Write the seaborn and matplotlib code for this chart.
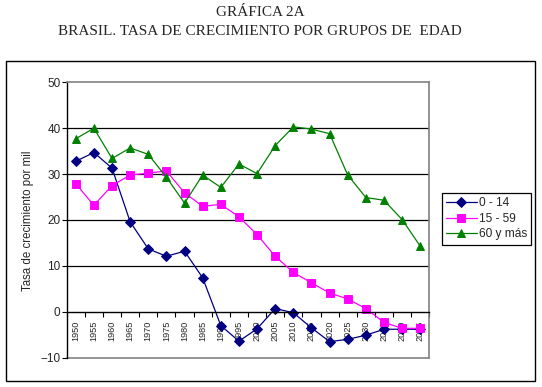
import numpy as np
import pandas as pd
import matplotlib
matplotlib.use("Agg")
import matplotlib.pyplot as plt
import matplotlib.patches as mpatches
import seaborn as sns

# --- data ---
years = [1950, 1955, 1960, 1965, 1970, 1975, 1980, 1985, 1990, 1995,
         2000, 2005, 2010, 2015, 2020, 2025, 2030, 2035, 2040, 2045]
g_0_14 = [32.8, 34.7, 31.3, 19.6, 13.7, 12.1, 13.2, 7.4, -3.0, -6.4,
          -3.7, 0.7, -0.2, -3.5, -6.5, -6.0, -5.1, -3.8, -3.8, -3.8]
g_15_59 = [27.9, 23.2, 27.5, 29.8, 30.2, 30.7, 25.9, 23.0, 23.4, 20.7,
           16.8, 12.1, 8.6, 6.3, 4.1, 2.8, 0.7, -2.3, -3.6, -3.6]
g_60 = [37.7, 40.0, 33.4, 35.7, 34.3, 29.3, 23.7, 29.8, 27.1, 32.2,
        30.1, 36.2, 40.3, 39.8, 38.8, 29.8, 24.9, 24.3, 20.1, 14.3]
groups = ["0 - 14", "15 - 59", "60 y más"]
colors = ["#000080", "#FF00FF", "#008000"]

df = pd.concat([
    pd.DataFrame({"year": [str(y) for y in years], "valor": vals, "grupo": g})
    for g, vals in zip(groups, [g_0_14, g_15_59, g_60])
])

sns.set_style("white")
plt.rcParams["font.family"] = ["Liberation Sans", "DejaVu Sans"]

W, H = 542, 387
fig = plt.figure(figsize=(W / 100, H / 100), dpi=100)
# plot area in pixel coordinates
x0, x1, y0, y1 = 66.7, 429.3, 82.3, 357.7
ax = fig.add_axes([x0 / W, 1 - y1 / H, (x1 - x0) / W, (y1 - y0) / H])

sns.pointplot(data=df, x="year", y="valor", hue="grupo", palette=colors,
              markers=["D", "s", "^"], linestyles="-", errorbar=None,
              markersize=5.5, linewidth=0.9, ax=ax)

ax.set_xlim(-0.5, len(years) - 0.5)
ax.set_ylim(-10, 50)

# horizontal grid lines
for v in [10, 20, 30, 40]:
    ax.axhline(v, color="black", lw=0.9, zorder=0)
ax.axhline(-10, color="#808080", lw=1.2, zorder=0, clip_on=False)

# spines
ax.spines["bottom"].set_position(("data", 0))
ax.spines["bottom"].set_color("black")
ax.spines["bottom"].set_linewidth(1.0)
ax.spines["left"].set_color("black")
ax.spines["left"].set_linewidth(1.0)
for s in ["top", "right"]:
    ax.spines[s].set_color("#808080")
    ax.spines[s].set_linewidth(1.2)

ax.set_yticks([-10, 0, 10, 20, 30, 40, 50])
ax.tick_params(axis="y", direction="out", length=3.5, width=0.8, pad=1,
               labelsize=8.5, left=True, color="black")
ax.set_xticks(range(len(years)))
ax.set_xticklabels([str(y) for y in years], rotation=90, fontsize=6.6)
ax.tick_params(axis="x", which="major", length=0, pad=6.5)
ax.set_xticks(np.arange(-0.5, len(years)), minor=True)
ax.tick_params(axis="x", which="minor", direction="out", length=3.5,
               width=0.8, color="black", bottom=True)
ax.set_xlabel("")
ax.set_ylabel("")

fig.text(28 / W, 1 - 221 / H, "Tasa de crecimiento por mil", rotation=90,
         ha="center", va="center", fontsize=8.3)

# title
fig.text(260 / W, 1 - 13 / H, "GRÁFICA 2A", ha="center", va="center",
         fontsize=11, family="Liberation Serif")
fig.text(259.5 / W, 1 - 31.5 / H, "BRASIL. TASA DE CRECIMIENTO POR GRUPOS DE  EDAD",
         ha="center", va="center", fontsize=11, family="Liberation Serif")

# legend
lx = (441.7 - x0) / (x1 - x0)
ly = (y1 - 193) / (y1 - y0)
sns.move_legend(ax, "upper left", bbox_to_anchor=(lx, ly), title=None,
                frameon=True, fontsize=8.6, borderaxespad=0, borderpad=0.35,
                labelspacing=0.3, handlelength=2.6, handletextpad=0.15)
leg = ax.get_legend()
leg.get_frame().set_edgecolor("black")
leg.get_frame().set_linewidth(0.9)
leg.get_frame().set_boxstyle("square", pad=0)
leg.get_frame().set_alpha(1)

# outer chart frame
fig.patches.append(mpatches.Rectangle((6 / W, 1 - 380.7 / H), (535.3 - 6) / W,
                                      (380.7 - 61) / H, transform=fig.transFigure,
                                      fill=False, edgecolor="black", lw=1.0))

fig.savefig("out.png", dpi=100)
